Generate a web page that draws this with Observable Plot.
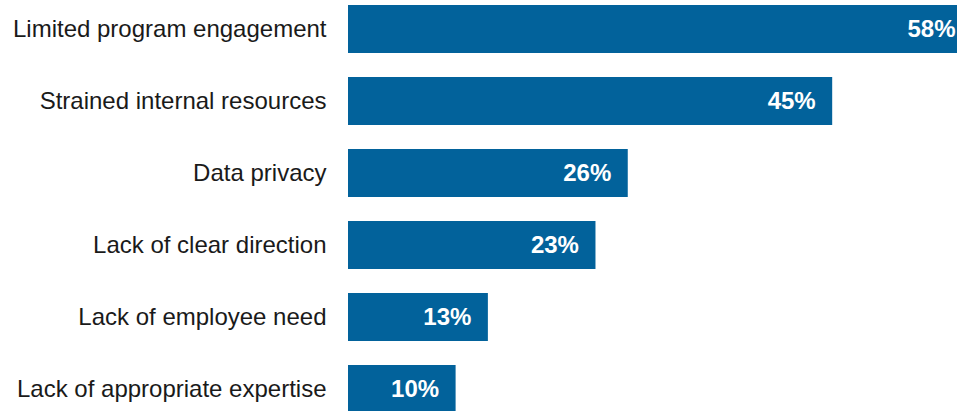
<!DOCTYPE html>
<html>
<head>
<meta charset="utf-8">
<script src="https://cdn.jsdelivr.net/npm/d3@7"></script>
<script src="https://cdn.jsdelivr.net/npm/@observablehq/plot@0.6"></script>
<style>
  html, body { margin: 0; padding: 0; background: #fff; overflow: hidden; }
  #chart svg { display: block; }
</style>
</head>
<body>
<div id="chart"></div>
<script>
const categories = [
  "Limited program engagement",
  "Strained internal resources",
  "Data privacy",
  "Lack of clear direction",
  "Lack of employee need",
  "Lack of appropriate expertise"
];
const values = [58, 45, 26, 23, 13, 10];
const valueLabels = ["58%", "45%", "26%", "23%", "13%", "10%"];

const data = categories.map((c, i) => ({category: c, value: values[i], label: valueLabels[i]}));

const chart = Plot.plot({
  width: 957,
  height: 418,
  marginLeft: 348,
  marginRight: 0,
  marginTop: 0,
  marginBottom: 0,
  style: {fontFamily: "'Liberation Sans', Arial, sans-serif", fontSize: "24px", color: "#1a1a1a", overflow: "hidden", background: "#fff"},
  x: {domain: [0, 56.6], axis: null},
  y: {domain: categories, padding: 0.337, paddingOuter: 0.055, label: null},
  marks: [
    Plot.barX(data, {x: "value", y: "category", fill: "#02629b"}),
    Plot.text(data, {x: "value", y: "category", text: "label", dx: -17, textAnchor: "end", fill: "white", fontWeight: "bold", fontSize: 24}),
    Plot.axisY({tickSize: 0, tickPadding: 22, fontSize: 24, label: null, fill: "#1a1a1a"})
  ]
});
document.getElementById("chart").appendChild(chart);
</script>
</body>
</html>
